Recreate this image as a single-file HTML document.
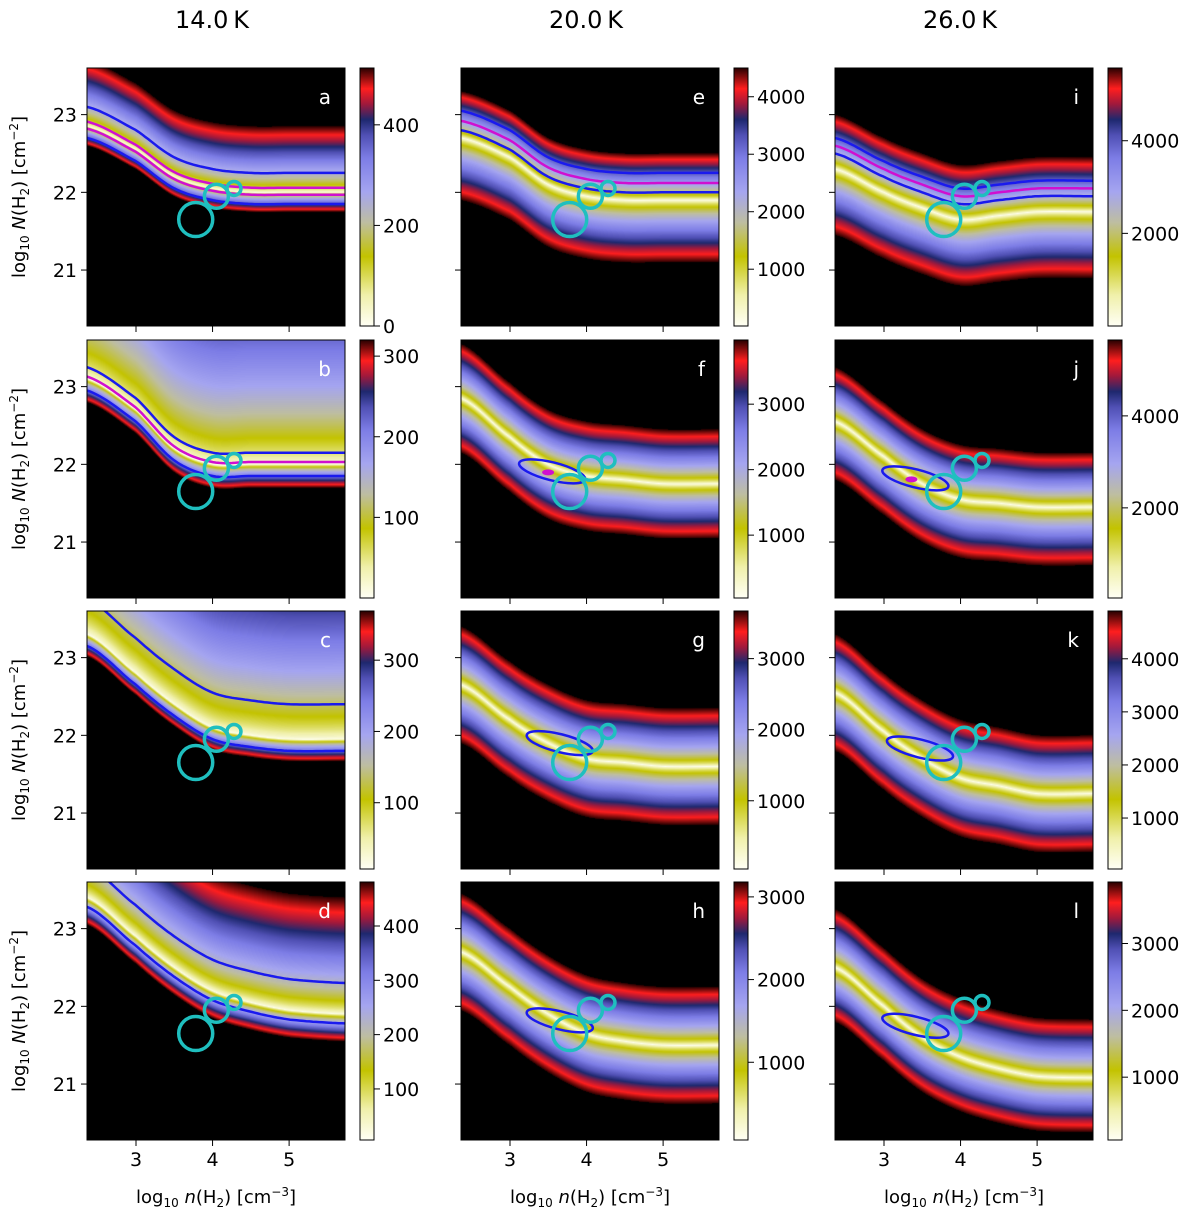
<!DOCTYPE html>
<html><head><meta charset="utf-8">
<style>
body{margin:0;background:#fff;width:1200px;height:1217px;position:relative;overflow:hidden;font-family:"DejaVu Sans","Liberation Sans",sans-serif}
canvas{position:absolute}
svg{position:absolute;left:0;top:0}
</style></head><body>
<div id="heatmaps"></div>
<svg id="chart" width="1200" height="1217"></svg>
<script>
// ---- data ----
const ridgeX = [2.36, 3.0, 3.5, 4.0, 4.5, 5.0, 5.73];
const ridgeA = [22.85,22.55,22.2,22.05,22.0,22.0,22.0];
const ridgeB = [23.1,22.7,22.2,22.0,22.0,22.0,22.0];
const ridgeC = [23.3,22.8,22.4,22.1,22.0,21.95,21.95];
const ridgeD = [23.4,22.9,22.5,22.2,22.05,21.95,21.9];
const ridgeE = [22.7,22.45,22.1,21.95,21.9,21.9,21.9];
const ridgeF = [22.85,22.35,22.0,21.85,21.8,21.75,21.75];
const ridgeG = [22.65,22.2,21.9,21.7,21.65,21.6,21.6];
const ridgeH = [22.7,22.25,21.9,21.65,21.55,21.5,21.5];
const ridgeI = [22.3,22.0,21.8,21.65,21.7,21.75,21.75];
const ridgeJ = [22.55,22.1,21.75,21.55,21.5,21.45,21.45];
const ridgeK = [22.55,22.05,21.7,21.45,21.35,21.25,21.25];
const ridgeL = [22.5,22.0,21.6,21.35,21.2,21.1,21.08];
const widthUp   = [0.85,3.0,2.6,1.5, 0.6,0.7,0.75,0.75, 0.7,0.7,0.75,0.75];
const widthDown = [0.25,0.3,0.28,0.35, 0.8,0.7,0.75,0.75, 0.85,0.75,0.75,0.7];
const blueOffsets = [[0.25,-0.15],[0.15,-0.15],[0.45,-0.15],[0.4,-0.12],[0.35,0.1],null,null,null,[0.4,0.2],null,null,null];
const magentaOffsets = [[0.06,-0.03],[0.03],[],[],[0.22],null,null,null,[0.3],null,null,null];
const ellipseCenter = [null,null,null,null,null,[3.55,21.91],[3.65,21.9],[3.65,21.82],null,[3.41,21.82],[3.47,21.83],[3.41,21.75]];
const circleX = [3.78, 4.05, 4.28];
const circleY = [21.65, 21.95, 22.05];
const circleR = [17, 12, 7];
const cbMin = [0,0,7,6, 12,40,40,60, 0,40,40,60];
const cbMax = [513,320,369,481, 4500,3980,3670,3180, 5570,5650,4900,3920];
const cbTicks = [[0,200,400],[100,200,300],[100,200,300],[100,200,300,400],
  [1000,2000,3000,4000],[1000,2000,3000],[1000,2000,3000],[1000,2000,3000],
  [2000,4000],[2000,4000],[1000,2000,3000,4000],[1000,2000,3000]];
const panelLetters = ['a','b','c','d','e','f','g','h','i','j','k','l'];
const colTitles = ['14.0\u2009K','20.0\u2009K','26.0\u2009K'];
const xTicks = [3,4,5];
const yTicks = [21,22,23];
const ridges = [ridgeA,ridgeB,ridgeC,ridgeD,ridgeE,ridgeF,ridgeG,ridgeH,ridgeI,ridgeJ,ridgeK,ridgeL];

// ---- layout ----
const colX=[87,461,835], rowY=[68,340,611,882], PW=258, PH=258;
const xMin=2.36,xMax=5.73,yMin=20.28,yMax=23.6;
const stops=[[0,[255,255,245]],[0.12,[240,240,170]],[0.27,[195,195,0]],[0.4,[190,190,160]],[0.52,[165,165,240]],[0.65,[125,125,230]],[0.74,[80,80,180]],[0.8,[30,40,110]],[0.86,[160,25,60]],[0.92,[255,30,30]],[1,[40,0,0]]];
function cmap(t){ if(t>1) return [0,0,0]; if(t<0)t=0;
  for(let i=1;i<stops.length;i++){ if(t<=stops[i][0]){const a=stops[i-1],b=stops[i],f=(t-a[0])/(b[0]-a[0]);return a[1].map((v,k)=>Math.round(v+(b[1][k]-v)*f));}}
  return stops[stops.length-1][1];}
function interp(xs,ys,x){ // Catmull-Rom smooth
  if(x<=xs[0])return ys[0]; const n=xs.length; if(x>=xs[n-1])return ys[n-1];
  let i=1; while(x>xs[i])i++;
  const f=(x-xs[i-1])/(xs[i]-xs[i-1]);
  const p0=ys[Math.max(i-2,0)],p1=ys[i-1],p2=ys[i],p3=ys[Math.min(i+1,n-1)];
  return 0.5*((2*p1)+(-p0+p2)*f+(2*p0-5*p1+4*p2-p3)*f*f+(-p0+3*p1-3*p2+p3)*f*f*f);}
const NS='http://www.w3.org/2000/svg', svg=document.getElementById('chart');
function el(tag,attrs,parent){const e=document.createElementNS(NS,tag);for(const k in attrs)e.setAttribute(k,attrs[k]);(parent||svg).appendChild(e);return e;}
function txt(s,attrs,parent){const e=el('text',attrs,parent);e.textContent=s;return e;}

for(let p=0;p<12;p++){
  const c=Math.floor(p/4), r=p%4, x0=colX[c], y0=rowY[r];
  const X=v=>x0+(v-xMin)/(xMax-xMin)*PW, Y=v=>y0+(yMax-v)/(yMax-yMin)*PH;
  const cv=document.createElement('canvas'); cv.width=PW; cv.height=PH;
  cv.style.left=x0+'px'; cv.style.top=y0+'px';
  
  
  document.getElementById('heatmaps').appendChild(cv);
  const ctx=cv.getContext('2d'), img=ctx.createImageData(PW,PH);
  for(let i=0;i<PW;i++){ const xv=xMin+(i+0.5)/PW*(xMax-xMin), rc=interp(ridgeX,ridges[p],xv);
    for(let j=0;j<PH;j++){ const yv=yMax-(j+0.5)/PH*(yMax-yMin), d=yv-rc;
      let t=d>=0? d/widthUp[p] : -d/widthDown[p]; t=t>1?2:Math.pow(t,0.6); const col=cmap(t), k=(j*PW+i)*4;
      img.data[k]=col[0];img.data[k+1]=col[1];img.data[k+2]=col[2];img.data[k+3]=255;}}
  ctx.putImageData(img,0,0);
  const g=el('g',{});  
  const clipId='clip'+p; const cp=el('clipPath',{id:clipId},g); el('rect',{x:x0,y:y0,width:PW,height:PH},cp);
  const cg=el('g',{'clip-path':'url(#'+clipId+')'},g);
  const line=(off,color,name)=>{ let d=''; for(let i=0;i<=80;i++){const xv=xMin+i/80*(xMax-xMin); d+=(i?'L':'M')+X(xv).toFixed(1)+' '+Y(interp(ridgeX,ridges[p],xv)+off).toFixed(1);}
    const e=el('path',{d:d,fill:'none',stroke:color,'stroke-width':2.5},cg);  };
  if(blueOffsets[p]) blueOffsets[p].forEach(o=>line(o,'#1a1aee','contour-blue'));
  if(magentaOffsets[p]) magentaOffsets[p].forEach(o=>line(o,'#d010d0','contour-magenta'));
  if(ellipseCenter[p]){const ex=X(ellipseCenter[p][0]),ey=Y(ellipseCenter[p][1]);
    const e=el('ellipse',{cx:ex,cy:ey,rx:34,ry:9,transform:`rotate(14 ${ex} ${ey})`,fill:'none',stroke:'#1a1aee','stroke-width':2.5},cg);
     
    if(c>0&&r===1){const m=el('ellipse',{cx:ex-4,cy:ey+1,rx:6,ry:3,fill:'#d010d0'},cg);  }}
  for(let k=0;k<circleX.length;k++){const e=el('circle',{cx:X(circleX[k]),cy:Y(circleY[k]),r:circleR[k],fill:'none',stroke:'#1fbfbf','stroke-width':3.5},cg);
     }
  el('rect',{x:x0,y:y0,width:PW,height:PH,fill:'none',stroke:'#000','stroke-width':1},g);
  const lt=txt(panelLetters[p],{x:x0+PW-14,y:y0+36,fill:'#fff','font-size':20,'text-anchor':'end'},g);
   
  xTicks.forEach(v=>{el('line',{x1:X(v),x2:X(v),y1:y0+PH,y2:y0+PH+6,stroke:'#000'},g);
    if(r===3){const t=txt(v,{x:X(v),y:y0+PH+26,'font-size':19,'text-anchor':'middle'},g);}});
  yTicks.forEach(v=>{el('line',{x1:x0-6,x2:x0,y1:Y(v),y2:Y(v),stroke:'#000'},g);
    if(c===0){const t=txt(v,{x:x0-10,y:Y(v)+7,'font-size':19,'text-anchor':'end'},g);}});
  const cbx=x0+PW+15, cbw=14, gid='grad'+p;
  const lg=el('linearGradient',{id:gid,x1:0,y1:1,x2:0,y2:0},g);
  stops.forEach(s=>el('stop',{offset:s[0],'stop-color':`rgb(${s[1].join(',')})`},lg));
  const cb=el('rect',{x:cbx,y:y0,width:cbw,height:PH,fill:`url(#${gid})`,stroke:'#000','stroke-width':1},g);
   
  cbTicks[p].forEach(v=>{const yy=y0+PH-(v-cbMin[p])/(cbMax[p]-cbMin[p])*PH;
    el('line',{x1:cbx+cbw,x2:cbx+cbw+6,y1:yy,y2:yy,stroke:'#000'},g);
    const t=txt(v,{x:cbx+cbw+9,y:yy+7,'font-size':19},g);  });
  if(c===0){const cy=y0+PH/2; const t=el('text',{x:0,y:0,transform:`translate(25 ${cy}) rotate(-90)`,'font-size':18,'text-anchor':'middle'},g);
    t.innerHTML='log<tspan font-size="12" dy="4">10</tspan><tspan dy="-4"> </tspan><tspan font-style="italic">N</tspan>(H<tspan font-size="12" dy="4">2</tspan><tspan dy="-4">) [cm</tspan><tspan font-size="12" dy="-7">−2</tspan><tspan dy="7">]</tspan>';
     }
  if(r===3){const t=el('text',{x:x0+PW/2,y:1203,'font-size':18,'text-anchor':'middle'},g);
    t.innerHTML='log<tspan font-size="12" dy="4">10</tspan><tspan dy="-4"> </tspan><tspan font-style="italic">n</tspan>(H<tspan font-size="12" dy="4">2</tspan><tspan dy="-4">) [cm</tspan><tspan font-size="12" dy="-7">−3</tspan><tspan dy="7">]</tspan>';
     }
}
colTitles.forEach((s,c)=>{const t=txt(s,{x:colX[c]+PW/2-4,y:28,'font-size':24,'text-anchor':'middle'});
   });
</script>
</body></html>
